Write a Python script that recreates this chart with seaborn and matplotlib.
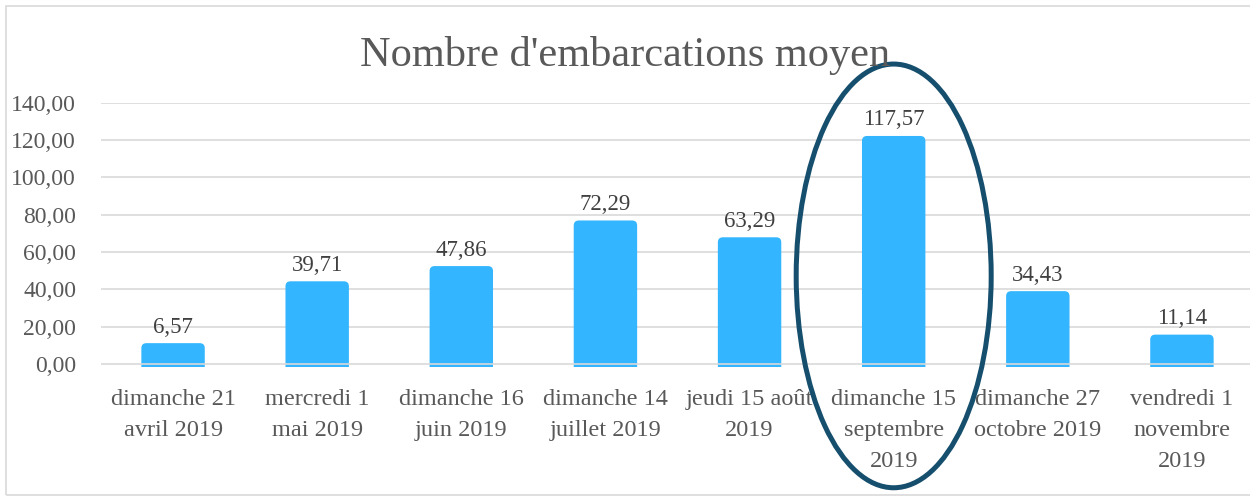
import matplotlib
matplotlib.use("Agg")
import matplotlib.pyplot as plt
import seaborn as sns
from matplotlib.patches import FancyBboxPatch, Ellipse, Rectangle
from matplotlib.ticker import FuncFormatter, FixedLocator

dates = ["dimanche 21\navril 2019", "mercredi 1\nmai 2019", "dimanche 16\njuin 2019",
         "dimanche 14\njuillet 2019", "jeudi 15 août\n2019", "dimanche 15\nseptembre\n2019",
         "dimanche 27\noctobre 2019", "vendredi 1\nnovembre\n2019"]
moyenne = [6.57, 39.71, 47.86, 72.29, 63.29, 117.57, 34.43, 11.14]
y_ticks = [0, 20, 40, 60, 80, 100, 120, 140]
highlight = 5  # dimanche 15 septembre

bar_color = "#33b5ff"
grid_color = "#d9d9d9"
text_color = "#595959"
top_extra = 4.6

sns.set_style("white")
plt.rcParams["font.family"] = ["Liberation Serif", "DejaVu Serif"]

fig = plt.figure(figsize=(12.5, 4.98), dpi=100)
ax = fig.add_axes([0.0808, 0.2627, 0.9224, 0.5311])

sns.barplot(x=dates, y=moyenne, color=bar_color, width=0.44, saturation=1, ax=ax, zorder=2)

# swap the plain bars for rounded ones
for p in list(ax.patches):
    x0, w, h = p.get_x(), p.get_width(), p.get_height()
    p.remove()
    ax.add_patch(FancyBboxPatch((x0, -10), w, h + 10 + top_extra,
                                boxstyle="round,pad=0,rounding_size=0.035",
                                mutation_aspect=77, fc=bar_color, ec="none", zorder=2))

ax.set_ylim(-1.7, 140)
ax.set_xlim(-0.5, len(dates) - 0.5)
for y in y_ticks[1:]:
    ax.axhline(y, color=grid_color, lw=1.2, zorder=1)
ax.axhline(0, color=grid_color, lw=1.2, zorder=3)

for i, v in enumerate(moyenne):
    ax.annotate(f"{v:.2f}".replace(".", ","), (i, v + top_extra), xytext=(0, 4),
                textcoords="offset points", ha="center", va="bottom",
                fontsize=16.5, color="#404040")

ax.yaxis.set_major_locator(FixedLocator(y_ticks))
ax.yaxis.set_major_formatter(FuncFormatter(lambda v, _: f"{v:.2f}".replace(".", ",")))
ax.tick_params(axis="y", length=0, pad=18, labelsize=17, labelcolor=text_color)
ax.set_xticks(range(len(dates)), labels=dates, linespacing=1.6)
ax.tick_params(axis="x", which="major", length=0, pad=16, labelsize=17.5, labelcolor=text_color)
ax.xaxis.set_minor_locator(FixedLocator([i - 0.5 for i in range(len(dates) + 1)]))
ax.tick_params(axis="x", which="minor", length=6, width=1.2, color=grid_color)
sns.despine(ax=ax, left=True, bottom=True)
ax.set_xlabel("")

fig.text(0.5, 0.868, "Nombre d'embarcations moyen", ha="center", va="baseline",
         fontsize=30.5, color=text_color)

ax.add_patch(Ellipse((highlight, 47.2), 1.353, 227, fill=False, ec="#164f6e", lw=3.6,
                     clip_on=False, zorder=5))

fig.patches.append(Rectangle((6 / 1250, 3 / 498), 1.0, 489 / 498, transform=fig.transFigure,
                             fill=False, ec=grid_color, lw=1.2))

fig.savefig("out.png", dpi=100)
